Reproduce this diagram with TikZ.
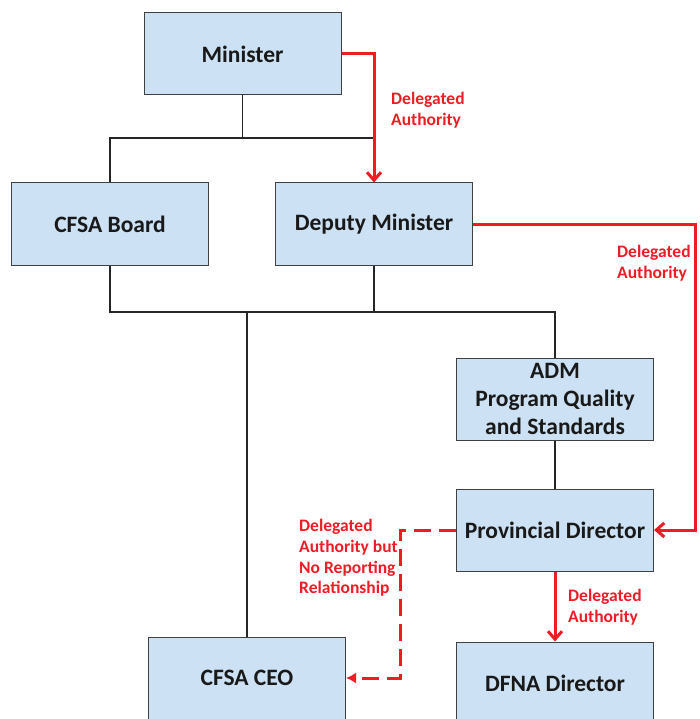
\documentclass[tikz,border=0pt]{standalone}
\usepackage{fontspec}
\setmainfont{Carlito}
\usetikzlibrary{positioning,arrows.meta}
\definecolor{boxblue}{HTML}{CCE1F3}
\definecolor{authred}{HTML}{EE1C25}

\begin{document}
\begin{tikzpicture}
		[x=1pt,y=-1pt,
		block/.style ={rectangle, draw=black!75, line width=1pt, fill=boxblue, text=black!90, align=center, minimum width=197pt, minimum height=82pt, inner sep=0pt, font=\bfseries\fontsize{23.5}{28}\selectfont},
		line/.style ={draw=black!85, line width=1.3pt},
		auth/.style ={draw=authred, line width=3pt, -{Straight Barb[length=8pt,width=14pt]}},
		nodash/.style ={draw=authred, line width=3pt, dash pattern=on 17pt off 8pt, -{Latex[length=10pt,width=11pt]}},
		note/.style ={text=authred, align=left, inner sep=0pt, anchor=north west, font=\bfseries\fontsize{17.5}{20.8}\selectfont}]
		\useasboundingbox (0,0) rectangle (700,719);

		% boxes
		\node[block] (minister) at (242.5,54) {Minister};
		\node[block] (board) at (110,224) {CFSA Board};
		\node[block] (deputy) at (374,224) {Deputy Minister};
		\node[block] (adm) at (555,399) {ADM\\Program Quality\\and Standards};
		\node[block] (prov) at (555,530) {Provincial Director};
		\node[block] (ceo) at (247,678) {CFSA CEO};
		\node[block] (dfna) at (555,683) {DFNA Director};

		% reporting lines
		\coordinate (upper bar) at (242.5,138);
		\coordinate (lower bar) at (247,312);
		\draw[line] (minister.south) -- (upper bar);
		\draw[line] (board.north) |- (deputy.north |- upper bar);
		\draw[line] (board.south) |- (deputy.south |- lower bar) -- (deputy.south);
		\draw[line] (lower bar) -- (ceo.north);
		\draw[line] (deputy.south |- lower bar) -| (adm.north);
		\draw[line] (adm.south) -- (prov.north);

		% delegated authority
		\coordinate (right corner) at (695,224);
		\coordinate (dash corner) at (400,530);
		\draw[auth] (minister.east) -| (deputy.north);
		\draw[auth] (deputy.east) -- (right corner) |- (prov.east);
		\draw[auth] (prov.south) -- (dfna.north);
		\draw[nodash] (prov.west) -- (dash corner) |- (ceo.east);

		\node[note] (minister note) at (391,92) {Delegated\\Authority};
		\node[note] (deputy note) at (617,245) {Delegated\\Authority};
		\node[note] (prov note) at (568,589) {Delegated\\Authority};
		\node[note] (ceo note) at (299,519) {Delegated\\Authority but\\No Reporting\\Relationship};

	\end{tikzpicture}
\end{document}
